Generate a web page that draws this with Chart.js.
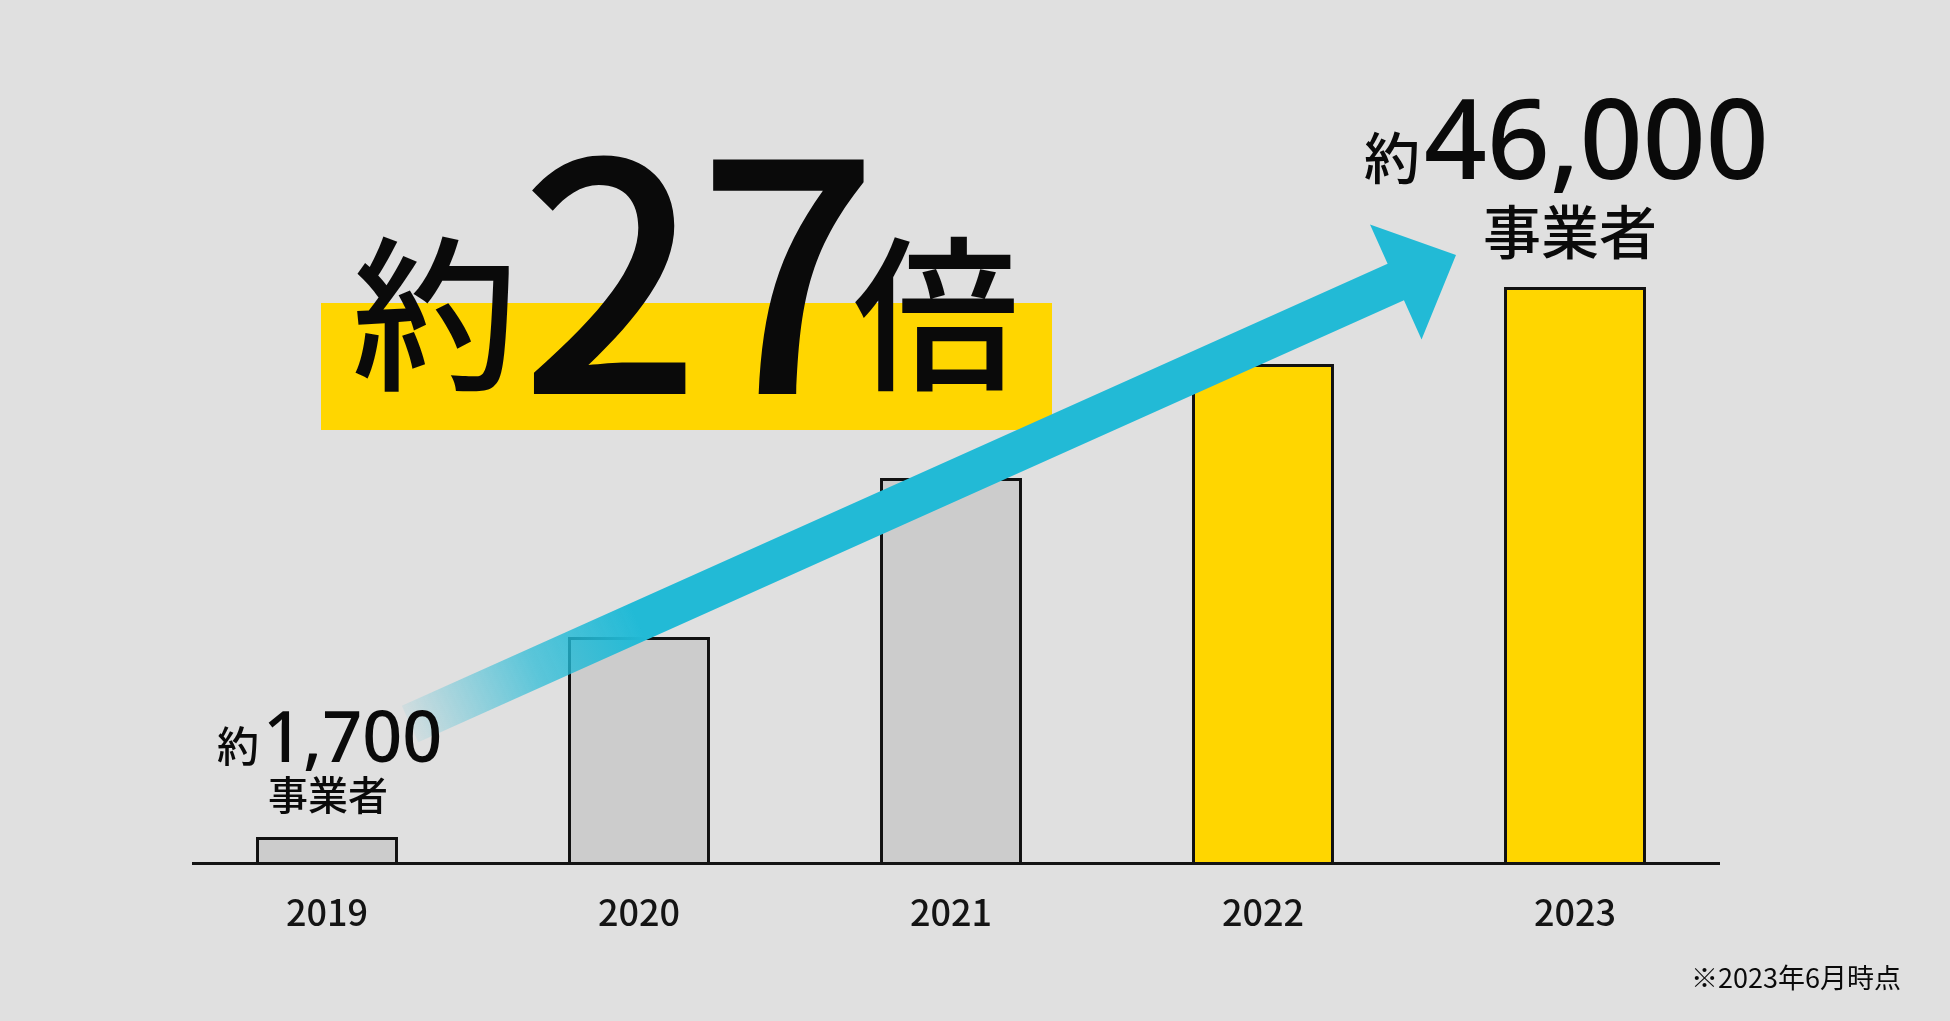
<!DOCTYPE html>
<html lang="ja">
<head>
<meta charset="utf-8">
<title>約27倍</title>
<script src="https://cdn.jsdelivr.net/npm/chart.js@4.4.1/dist/chart.umd.min.js"></script>
<style>
  html, body { margin: 0; padding: 0; background: #e0e0e0; }
  #wrap { position: relative; width: 1950px; height: 1021px; overflow: hidden; background: #e0e0e0; }
  #hl { position: absolute; left: 321px; top: 303px; width: 731px; height: 127px; background: #ffd600; z-index: 0; }
  canvas { position: absolute; left: 0; top: 0; z-index: 1; }
  .t { position: absolute; z-index: 2; line-height: 1; white-space: nowrap; color: #0a0a0a;
       font-family: "Noto Sans CJK JP", "Noto Sans", sans-serif; }
</style>
</head>
<body>
<div id="wrap">
  <div id="hl"></div>
  <canvas id="c" width="1950" height="1021"></canvas>
</div>
<script>
// ---- data ----
const categories = ['2019', '2020', '2021', '2022', '2023'];
const values = [2000, 18000, 30720, 39840, 46000];
const barColors = ['#cccccc', '#cccccc', '#cccccc', '#ffd600', '#ffd600'];
const headline = ['約', '27', '倍'];
const startLabel = ['約', '1,700', '事業者'];
const endLabel = ['約', '46,000', '事業者'];
const note = '※2023年6月時点';

const JP = '"Noto Sans CJK JP", "Noto Sans", sans-serif';
const NUM = '"Noto Sans", "Noto Sans CJK JP", sans-serif';

// baseline line + arrow decoration
const decor = {
  id: 'decor',
  afterDatasetsDraw(chart) {
    const ctx = chart.ctx;
    const a = chart.chartArea;
    // axis baseline
    ctx.save();
    ctx.strokeStyle = '#141414';
    ctx.lineWidth = 3;
    ctx.beginPath();
    ctx.moveTo(a.left + 21, a.bottom + 1.5);
    ctx.lineTo(a.right - 11, a.bottom + 1.5);
    ctx.stroke();
    ctx.restore();

    // arrow
    const T = { x: 410, y: 724 }, P = { x: 1456, y: 255 };
    const dx = P.x - T.x, dy = P.y - T.y, L = Math.hypot(dx, dy);
    const u = { x: dx / L, y: dy / L }, n = { x: -u.y, y: u.x };
    const headLen = 66, sw = 20, hw = 63;
    const B = { x: P.x - headLen * u.x, y: P.y - headLen * u.y };
    const pt = (p, k) => [p.x + k * n.x, p.y + k * n.y];
    const poly = [pt(T, sw), pt(B, sw), pt(B, hw), [P.x, P.y], pt(B, -hw), pt(B, -sw), pt(T, -sw)];
    const g = ctx.createLinearGradient(T.x, T.y, T.x + 250 * u.x, T.y + 250 * u.y);
    g.addColorStop(0, 'rgba(34,186,214,0.08)');
    g.addColorStop(0.55, 'rgba(34,186,214,0.7)');
    g.addColorStop(1, 'rgba(34,186,214,1)');
    ctx.save();
    ctx.fillStyle = g;
    ctx.beginPath();
    poly.forEach((p, i) => i ? ctx.lineTo(p[0], p[1]) : ctx.moveTo(p[0], p[1]));
    ctx.closePath();
    ctx.fill();
    ctx.restore();
  }
};

new Chart(document.getElementById('c'), {
  type: 'bar',
  data: {
    labels: categories,
    datasets: [{
      data: values,
      backgroundColor: barColors,
      borderColor: '#111111',
      borderWidth: 3,
      borderSkipped: 'start',
      categoryPercentage: 1,
      barPercentage: 0.455
    }]
  },
  options: {
    responsive: false,
    animation: false,
    devicePixelRatio: 1,
    layout: { padding: { left: 171, right: 219, top: 287, bottom: 0 } },
    plugins: { legend: { display: false }, tooltip: { enabled: false } },
    scales: {
      x: {
        type: 'category',
        offset: true,
        grid: { display: false },
        border: { display: false },
        ticks: {
          color: '#141414',
          padding: 21,
          font: { family: JP, size: 36, weight: '500' }
        },
        afterFit(s) { s.height = 159; }
      },
      y: { display: false, min: 0, max: 46000 }
    }
  },
  plugins: [decor]
});

// ---- text annotations (real DOM text) ----
const wrap = document.getElementById('wrap');
function addText(parts, x, baseline, align) {
  const d = document.createElement('div');
  d.className = 't';
  parts.forEach(p => {
    const s = document.createElement('span');
    s.textContent = p.text;
    s.style.fontSize = p.size + 'px';
    s.style.fontWeight = p.weight || 400;
    s.style.fontFamily = p.family || JP;
    if (p.ls) s.style.letterSpacing = p.ls + 'px';
    if (p.ml) s.style.marginLeft = p.ml + 'px';
    if (p.color) s.style.color = p.color;
    d.appendChild(s);
  });
  const m = document.createElement('span');
  m.style.cssText = 'display:inline-block;width:0;height:0;vertical-align:baseline;';
  d.appendChild(m);
  wrap.appendChild(d);
  const off = m.offsetTop;
  d.style.top = (baseline - off) + 'px';
  if (align === 'center') d.style.left = (x - d.offsetWidth / 2) + 'px';
  else if (align === 'right') d.style.left = (x - d.offsetWidth) + 'px';
  else d.style.left = x + 'px';
  return d;
}

// headline 約27倍
addText([{ text: headline[0], size: 166, weight: 500 }], 352, 377);
addText([{ text: headline[1], size: 318, weight: 500, ls: -4 }], 520, 394);
addText([{ text: headline[2], size: 166, weight: 500 }], 853, 377);

// 約1,700 事業者
addText([{ text: startLabel[0], size: 42, weight: 500 },
         { text: startLabel[1], size: 70, weight: 500, family: NUM, ml: 4 }], 217, 762);
addText([{ text: startLabel[2], size: 40, weight: 500 }], 328, 810, 'center');

// 約46,000 事業者
addText([{ text: endLabel[0], size: 56, weight: 500 },
         { text: endLabel[1], size: 110, weight: 500, family: NUM, ml: 4 }], 1364, 179);
addText([{ text: endLabel[2], size: 58, weight: 500 }], 1570, 254, 'center');

// note
addText([{ text: note, size: 27, weight: 400 }], 1901, 988, 'right');
</script>
</body>
</html>
